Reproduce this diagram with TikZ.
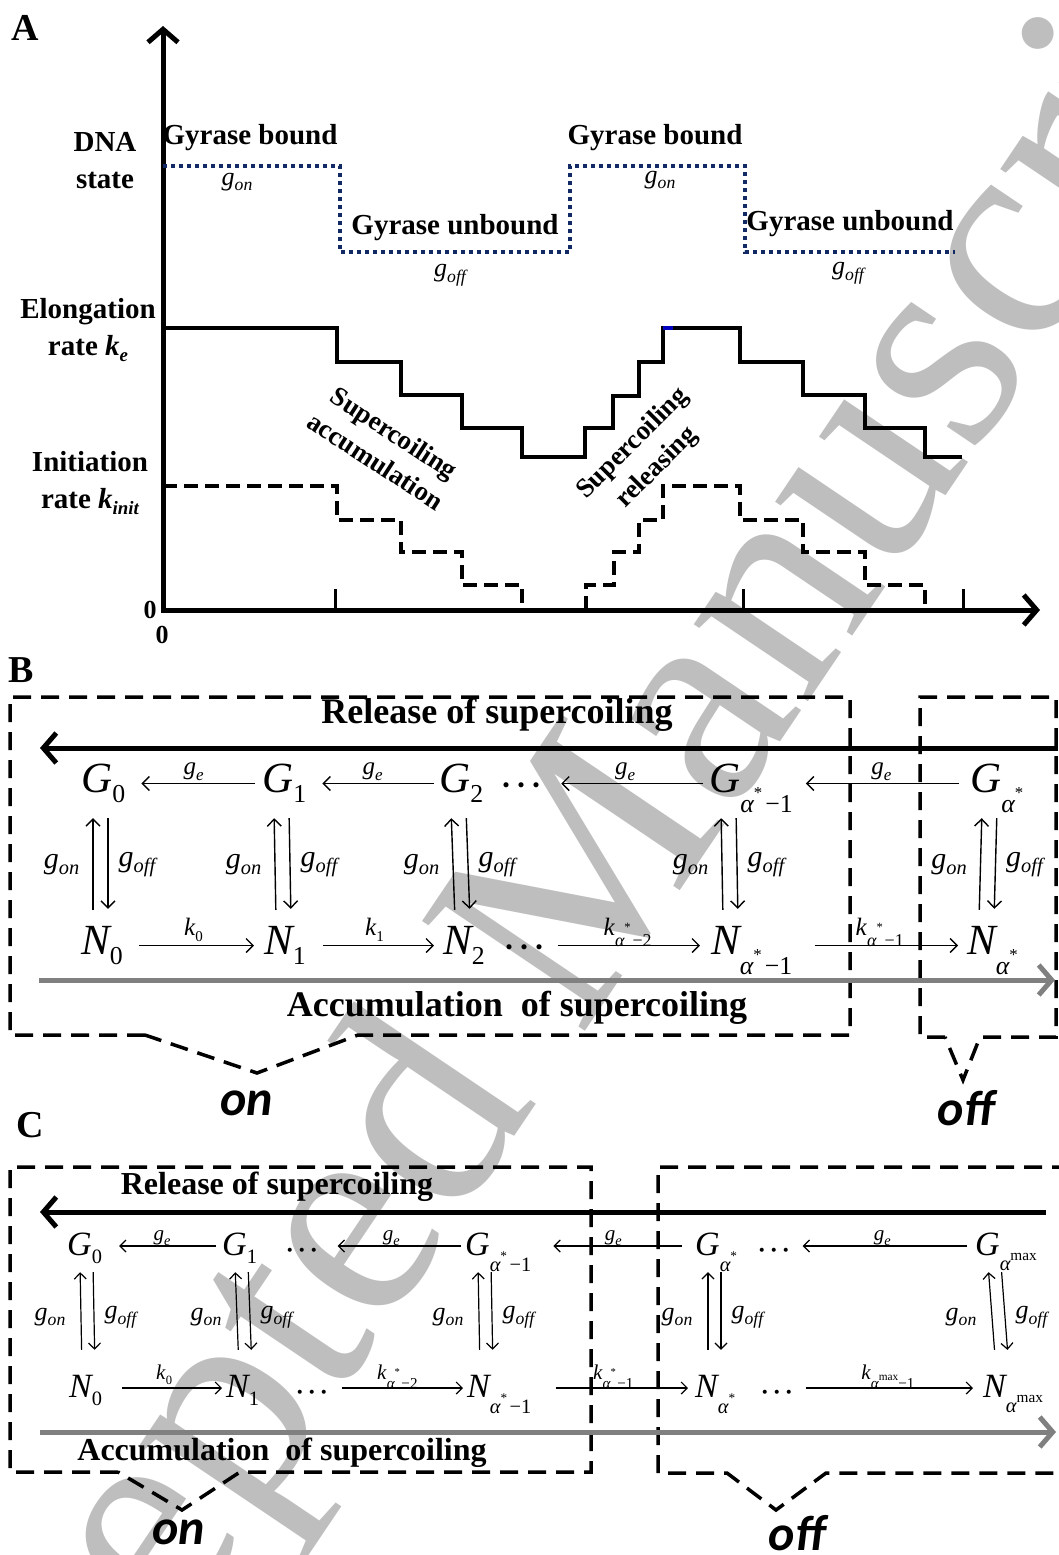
\documentclass[tikz,border=0pt]{standalone}
\usepackage{fontspec}
\setmainfont{Liberation Serif}
\newfontfamily\onofffont{Carlito}
\usetikzlibrary{arrows.meta}

\definecolor{navy}{RGB}{18,42,100}
\definecolor{accgray}{RGB}{128,128,128}
\definecolor{wmgray}{RGB}{190,190,190}

% indices
\newcommand{\sbd}[1]{\raisebox{-0.24em}{\fontsize{0.6em}{0.6em}\selectfont\upshape #1}}
\newcommand{\sbs}[1]{\raisebox{-0.48em}{\fontsize{0.6em}{0.6em}\selectfont α\raisebox{0.55em}{\fontsize{0.65em}{0.65em}\selectfont\upshape *}\upshape\hspace{0.12em}#1}}
\newcommand{\sbm}{\raisebox{-0.45em}{\fontsize{0.6em}{0.6em}\selectfont α\raisebox{0.5em}{\fontsize{0.75em}{0.75em}\selectfont\upshape max}}}
\newcommand{\gsb}[1]{\textit{g}\raisebox{-0.22em}{\fontsize{0.68em}{0.68em}\selectfont\itshape #1}}
\newcommand{\ksb}[1]{\textit{k}\raisebox{-0.42em}{\fontsize{0.72em}{0.72em}\selectfont\itshape α\raisebox{0.85em}{\fontsize{0.7em}{0.7em}\selectfont\upshape *}\upshape\hspace{0.1em}#1}}
\newcommand{\kmx}[1]{\textit{k}\raisebox{-0.42em}{\fontsize{0.72em}{0.72em}\selectfont\itshape α\raisebox{0.5em}{\fontsize{0.75em}{0.75em}\selectfont\upshape max}\upshape #1}}
\newcommand{\cdts}{\raisebox{-0.18em}{·\hspace{0.1em}·\hspace{0.1em}·}}

\tikzset{
  axis/.style={line width=5pt, {Straight Barb[length=13pt,width=30pt]}-{Straight Barb[length=13pt,width=30pt]}},
  elong/.style={line width=3.5pt},
  init/.style={line width=3.5pt, dash pattern=on 14pt off 7pt},
  dna/.style={line width=4pt, color=navy, dash pattern=on 4pt off 4pt},
  tickmark/.style={line width=3pt},
  lab/.style={font=\fontsize{29}{37}\selectfont\bfseries, inner sep=0pt},
  rlab/.style={font=\fontsize{27}{34}\selectfont\bfseries, inner sep=0pt, align=center},
  glab/.style={font=\fontsize{26}{26}\selectfont, inner sep=0pt},
  zlab/.style={font=\fontsize{26}{26}\selectfont\bfseries, inner sep=0pt},
  plab/.style={font=\fontsize{38}{38}\selectfont\bfseries, inner sep=0pt},
  dbox/.style={line width=3.5pt, dash pattern=on 18pt off 10pt},
  relarr/.style={line width=5pt, -{Straight Barb[length=13pt,width=30pt]}},
  accarr/.style={line width=5pt, color=accgray, -{Straight Barb[length=13pt,width=30pt]}},
  onoff/.style={font=\onofffont\fontsize{50}{50}\selectfont\bfseries\itshape, inner sep=0pt},
  txB/.style={font=\fontsize{36}{36}\selectfont\bfseries, inner sep=0pt},
  txC/.style={font=\fontsize{32}{32}\selectfont\bfseries, inner sep=0pt},
  stB/.style={inner sep=0pt, anchor=base west, text height=34pt, text depth=17pt, font=\fontsize{43}{43}\selectfont\itshape},
  stC/.style={inner sep=0pt, anchor=base west, text height=27pt, text depth=9pt, font=\fontsize{34}{34}\selectfont\itshape},
  rtB/.style={line width=1.4pt, -{Straight Barb[length=7pt,width=14pt]}},
  rtC/.style={line width=1.2pt, -{Straight Barb[length=6pt,width=12pt]}},
  geB/.style={font=\fontsize{25}{25}\selectfont, inner sep=0pt, text depth=0pt, above=8pt},
  geC/.style={font=\fontsize{21}{21}\selectfont, inner sep=0pt, text depth=0pt, above=5pt},
  kB/.style={font=\fontsize{25}{25}\selectfont, inner sep=0pt, text depth=0pt, above=9pt},
  kC/.style={font=\fontsize{21}{21}\selectfont, inner sep=0pt, text depth=0pt, above=8pt},
  gonB/.style={font=\fontsize{30}{30}\selectfont, inner sep=0pt},
  gonC/.style={font=\fontsize{26}{26}\selectfont, inner sep=0pt},
  wmark/.style={font=\fontsize{300}{300}\selectfont, text=wmgray, inner sep=0pt, anchor=base west, rotate=56}
}

\begin{document}
\begin{tikzpicture}[x=1pt,y=-1pt]
\useasboundingbox (0,0) rectangle (1058,1555);

% watermark
\node[wmark] (wm) at (-95,2040) {Accepted Manuscript};

% ---------- A ----------
\node[plab] (pA) at (25,28) {A};
\coordinate (O) at (163,610);
\coordinate (ytop) at (163,26);
\coordinate (xend) at (1040,610);
\draw[axis] (ytop) -- (O) -- (xend);
\foreach \t in {335,743,963}
  \draw[tickmark] (\t,610) -- (\t,589);
\node[zlab] (z1) at (150,610) {0};
\node[zlab] (z2) at (162,635) {0};

\draw[dna] (163,166) -| (340,252) -| (570,166) -| (745,252) -- (955,252);
\draw[elong] (163,328) -| (337,362) -| (401,395) -| (462,428) -| (522,457) -| (585,428)
  -| (613,396) -| (639,362) -| (663,328) -| (740,362) -| (803,395) -| (865,428)
  -| (925,457) -- (962,457);
\draw[line width=3.5pt, blue!75!black] (663,328) -- (673,328);
\draw[init] (163,486) -| (337,520) -| (401,552) -| (462,585) -| (522,610);
\draw[init] (586,610) |- (614,585) |- (639,552) |- (663,520) |- (740,486) |- (803,520)
  |- (865,552) |- (925,585) -- (925,610);

\node[lab, align=center] (dna) at (105,161) {DNA\\state};
\node[lab, align=center] (elo) at (88,330) {Elongation\\rate \textit{k}\raisebox{-0.2em}{\fontsize{0.65em}{0.65em}\selectfont\itshape e}};
\node[lab, align=center] (ini) at (90,483) {Initiation\\rate \textit{k}\raisebox{-0.2em}{\fontsize{0.65em}{0.65em}\selectfont\itshape init}};
\node[lab] (gb1) at (250,138) {Gyrase bound};
\node[glab] (gon1) at (237,182) {\gsb{on}};
\node[lab] (gu1) at (455,228) {Gyrase unbound};
\node[glab] (goff1) at (450,275) {\gsb{off}};
\node[lab] (gb2) at (655,138) {Gyrase bound};
\node[glab] (gon2) at (660,180) {\gsb{on}};
\node[lab] (gu2) at (850,224) {Gyrase unbound};
\node[glab] (goff2) at (848,273) {\gsb{off}};
\node[rlab, rotate=-33] (acc) at (385,447) {Supercoiling\\accumulation};
\node[rlab, rotate=45] (rel) at (645,456) {Supercoiling\\releasing};

% ---------- B ----------
\node[plab] (pB) at (21,670) {B};
\draw[dbox] (145,1035) -- (10,1035) -- (10,697) -- (850,697) -- (850,1035) -- (358,1035) -- (257,1073) -- cycle;
\draw[dbox] (945,1037) -- (920,1037) -- (920,697) -- (1056,697) -- (1056,1037) -- (980,1037) -- (963,1080) -- cycle;
\node[onoff] (onB) at (247,1103) {on};
\node[onoff] (offB) at (966,1108) {off};

\coordinate (relB1) at (1058,748);
\coordinate (relB2) at (40,748);
\draw[relarr] (relB1) -- (relB2);
\node[txB] (relB) at (497,715) {Release of supercoiling};
\coordinate (accB1) at (39,980);
\coordinate (accB2) at (1055,980);
\draw[accarr] (accB1) -- (accB2);
\node[txB] (accB) at (517,1008) {Accumulation\ \ of supercoiling};

\node[stB] (G0) at (81,792) {G\sbd{0}};
\node[stB] (G1) at (262,792) {G\sbd{1}};
\node[stB] (G2) at (439,792) {G\sbd{2}};
\node[stB] (G2d) at (500,792) {\cdts};
\node[stB] (Gsm) at (709,792) {G\sbs{−1}};
\node[stB] (Gs) at (970,792) {G\sbs{}};
\node[stB] (N0) at (81,954) {N\sbd{0}};
\node[stB] (N1) at (264,954) {N\sbd{1}};
\node[stB] (N2) at (443,954) {N\sbd{2}};
\node[stB] (N2d) at (503,954) {\cdts};
\node[stB] (Nsm) at (711,954) {N\sbs{−1}};
\node[stB] (Ns) at (967,954) {N\sbs{}};

\draw[rtB, shorten <=7pt, shorten >=16pt] (G1.west) -- (G0.east) node[midway, geB] (ge1) {\gsb{e}};
\draw[rtB, shorten <=5pt, shorten >=16pt] (G2.west) -- (G1.east) node[midway, geB] (ge2) {\gsb{e}};
\draw[rtB, shorten <=6pt, shorten >=20pt] (Gsm.west) -- (G2d.east) node[midway, geB] (ge3) {\gsb{e}};
\draw[rtB, shorten <=11pt, shorten >=13pt] (Gs.west) -- (Gsm.east) node[midway, geB] (ge4) {\gsb{e}};
\draw[rtB, shorten <=16pt, shorten >=10pt] (N0.east) -- (N1.west) node[midway, kB] (k0) {\textit{k}\sbd{0}};
\draw[rtB, shorten <=17pt, shorten >=9pt] (N1.east) -- (N2.west) node[midway, kB] (k1) {\textit{k}\sbd{1}};
\draw[rtB, shorten <=14pt, shorten >=11pt] (N2d.east) -- (Nsm.west) node[midway, kB] (k2) {\ksb{−2}};
\draw[rtB, shorten <=22pt, shorten >=9pt] (Nsm.east) -- (Ns.west) node[midway, kB] (k3) {\ksb{−1}};

\foreach \g/\n in {G0/N0,G1/N1,G2/N2,Gsm/Nsm,Gs/Ns}{
  \draw[rtB, shorten <=10pt, shorten >=9pt] ([xshift=12pt]\n.north west) -- ([xshift=12pt]\g.south west)
    node[midway, left=13pt, gonB] (on\g) {\gsb{on}};
  \draw[rtB, shorten <=9pt, shorten >=11pt] ([xshift=27pt]\g.south west) -- ([xshift=27pt]\n.north west)
    node[midway, right=10pt, gonB] (off\g) {\gsb{off}};
}

% ---------- C ----------
\node[plab] (pC) at (30,1125) {C};
\draw[dbox] (118,1472) -- (10,1472) -- (10,1167) -- (591,1167) -- (591,1472) -- (240,1472) -- (182,1510) -- cycle;
\draw[dbox] (1070,1167) -- (658,1167) -- (658,1473) -- (727,1473) -- (776,1510) -- (826,1473) -- (1070,1473);
\node[onoff] (onC) at (179,1532) {on};
\node[onoff] (offC) at (797,1533) {off};

\coordinate (relC1) at (1046,1212);
\coordinate (relC2) at (40,1212);
\draw[relarr] (relC1) -- (relC2);
\node[txC] (relC) at (277,1187) {Release of supercoiling};
\coordinate (accC1) at (40,1432);
\coordinate (accC2) at (1056,1432);
\draw[accarr] (accC1) -- (accC2);
\node[txC] (accC) at (282,1453) {Accumulation\ \ of supercoiling};

\node[stC] (cG0) at (67,1255) {G\sbd{0}};
\node[stC] (cG1) at (222,1255) {G\sbd{1}};
\node[stC] (cG1d) at (285,1255) {\cdts};
\node[stC] (cGsm) at (465,1255) {G\sbs{−1}};
\node[stC] (cGs) at (695,1255) {G\sbs{}};
\node[stC] (cGsd) at (757,1255) {\cdts};
\node[stC] (cGmx) at (975,1255) {G\sbm};
\node[stC] (cN0) at (69,1397) {N\sbd{0}};
\node[stC] (cN1) at (226,1397) {N\sbd{1}};
\node[stC] (cN1d) at (295,1397) {\cdts};
\node[stC] (cNsm) at (467,1397) {N\sbs{−1}};
\node[stC] (cNs) at (695,1397) {N\sbs{}};
\node[stC] (cNsd) at (760,1397) {\cdts};
\node[stC] (cNmx) at (983,1397) {N\sbm};

\draw[rtC, shorten <=6pt, shorten >=17pt] (cG1.west) -- (cG0.east) node[midway, geC] (cge1) {\gsb{e}};
\draw[rtC, shorten <=4pt, shorten >=20pt] (cGsm.west) -- (cG1d.east) node[midway, geC] (cge2) {\gsb{e}};
\draw[rtC, shorten <=13pt, shorten >=22pt] (cGs.west) -- (cGsm.east) node[midway, geC] (cge3) {\gsb{e}};
\draw[rtC, shorten <=8pt, shorten >=13pt] (cGmx.west) -- (cGsd.east) node[midway, geC] (cge4) {\gsb{e}};
\draw[rtC, shorten <=20pt, shorten >=4pt] (cN0.east) -- (cN1.west) node[midway, kC] (ck0) {\textit{k}\sbd{0}};
\draw[rtC, shorten <=14pt, shorten >=4pt] (cN1d.east) -- (cNsm.west) node[midway, kC] (ck1) {\ksb{−2}};
\draw[rtC, shorten <=24pt, shorten >=7pt] (cNsm.east) -- (cNs.west) node[midway, kC] (ck2) {\ksb{−1}};
\draw[rtC, shorten <=13pt, shorten >=10pt] (cNsd.east) -- (cNmx.west) node[midway, kC] (ck3) {\kmx{−1}};

\foreach \g/\n in {cG0/cN0,cG1/cN1,cGsm/cNsm,cGs/cNs,cGmx/cNmx}{
  \draw[rtC, shorten <=20pt, shorten >=8pt] ([xshift=13pt]\n.north west) -- ([xshift=13pt]\g.south west)
    node[midway, left=15pt, gonC] (on\g) {\gsb{on}};
  \draw[rtC, shorten <=8pt, shorten >=20pt] ([xshift=26pt]\g.south west) -- ([xshift=26pt]\n.north west)
    node[midway, right=10pt, gonC] (off\g) {\gsb{off}};
}
\end{tikzpicture}
\end{document}
